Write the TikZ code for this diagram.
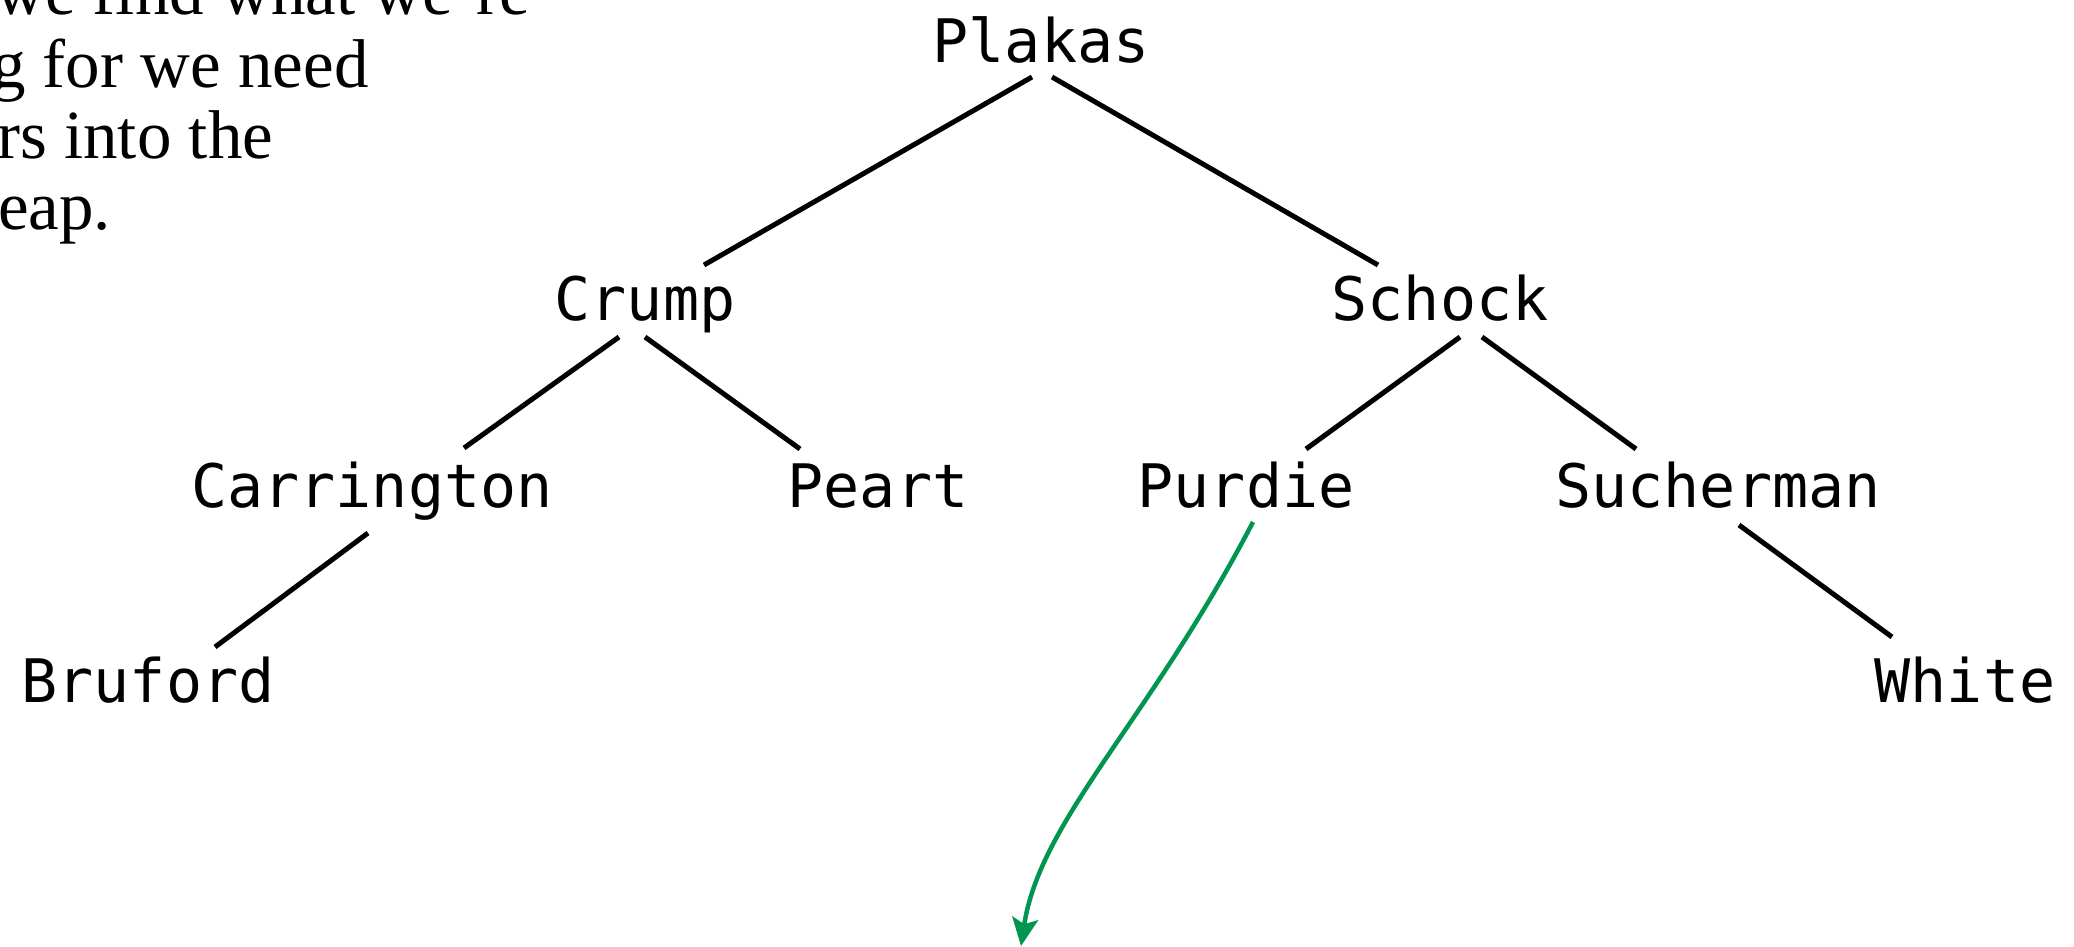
\documentclass[tikz,border=0pt]{standalone}
\usepackage{fontspec}
\setmainfont{Liberation Serif}
\newfontfamily\treefont{DejaVu Sans Mono}
\usetikzlibrary{arrows.meta}
\definecolor{arrowgreen}{RGB}{0,150,82}
\begin{document}
\begin{tikzpicture}[x=1pt,y=-1pt,
  tname/.style={font=\treefont\fontsize{60}{72}\selectfont, inner sep=0pt, anchor=base},
  para/.style={font=\fontsize{69}{71}\selectfont, inner sep=0pt, anchor=base west},
  tedge/.style={line width=5pt, black},
  findarrow/.style={line width=4.5pt, arrowgreen, -{Stealth[length=28pt,width=26pt,inset=6pt]}}]
\useasboundingbox (0,0) rectangle (2074,947);
\clip (0,0) rectangle (2074,947);
% partial paragraph at top left
\node[para] (p1) at (-5,15) {we find what we're};
\node[para] (p2) at (-9,88) {g for we need};
\node[para] (p3) at (-3,158) {rs into the};
\node[para] (p4) at (-2,229) {eap.};
% tree nodes
\node[tname] (Plakas) at (1041,63) {Plakas};
\node[tname] (Crump) at (645,320) {Crump};
\node[tname] (Schock) at (1440,320) {Schock};
\node[tname] (Carrington) at (372,507) {Carrington};
\node[tname] (Peart) at (878,507) {Peart};
\node[tname] (Purdie) at (1246,507) {Purdie};
\node[tname] (Sucherman) at (1718,507) {Sucherman};
\node[tname] (Bruford) at (148,702) {Bruford};
\node[tname] (White) at (1965,702) {White};
% edges
\draw[tedge] ([shift={(-9,14)}]Plakas.base) -- ([shift={(59,-55)}]Crump.base);
\draw[tedge] ([shift={(11,14)}]Plakas.base) -- ([shift={(-62,-55)}]Schock.base);
\draw[tedge] ([shift={(-26,17)}]Crump.base) -- ([shift={(92,-59)}]Carrington.base);
\draw[tedge] ([shift={(0,17)}]Crump.base) -- ([shift={(-78,-58)}]Peart.base);
\draw[tedge] ([shift={(20,17)}]Schock.base) -- ([shift={(60,-58)}]Purdie.base);
\draw[tedge] ([shift={(42,17)}]Schock.base) -- ([shift={(-82,-58)}]Sucherman.base);
\draw[tedge] ([shift={(-4,26)}]Carrington.base) -- ([shift={(67,-55)}]Bruford.base);
\draw[tedge] ([shift={(21,18)}]Sucherman.base) -- ([shift={(-73,-65)}]White.base);
% green arrow
\coordinate (found) at (1021,946);
\draw[findarrow] ([shift={(7,15)}]Purdie.base) .. controls (1150,720) and (1040,820) .. (found);
\end{tikzpicture}
\end{document}
